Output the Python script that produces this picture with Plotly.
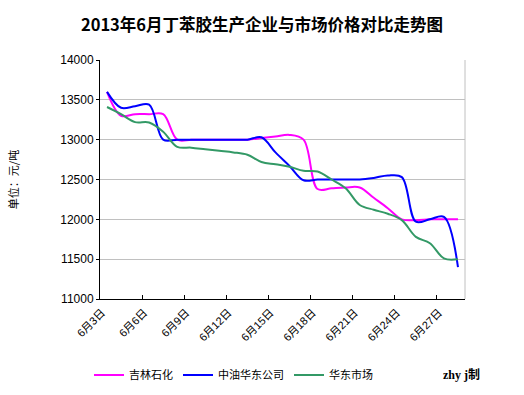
import plotly.graph_objects as go

dates = ["6月%d日" % d for d in range(3, 29)]
tick_labels = dates[::3]

jilin = [13600, 13300, 13320, 13320, 13320, 13000, 13000, 13000, 13000, 13000,
         13000, 13020, 13040, 13060, 13000, 12380, 12390, 12400, 12400, 12270,
         12140, 12000, 11990, 12000, 12000, 12000]
zhongyou = [13600, 13400, 13420, 13440, 13000, 13000, 13000, 13000, 13000, 13000,
            13000, 13030, 12840, 12670, 12490, 12500, 12500, 12500, 12500, 12520,
            12550, 12530, 11970, 12000, 12030, 11400]
huadong = [13410, 13320, 13220, 13215, 13100, 12910, 12900, 12880, 12860, 12840,
           12810, 12720, 12690, 12660, 12610, 12600, 12500, 12390, 12180, 12120,
           12070, 11990, 11780, 11700, 11510, 11500]

series = [("吉林石化", jilin, "#FF00FF"),
          ("中油华东公司", zhongyou, "#0000FF"),
          ("华东市场", huadong, "#339966")]

n = len(dates)
idx = list(range(n))                       # category positions
label_pos = idx[::3]
boundary_ticks = [i - 0.5 for i in range(3, n, 3)]

font_family = "Liberation Sans, Noto Sans CJK SC, sans-serif"

fig = go.Figure()
for name, vals, color in series:
    fig.add_trace(go.Scatter(x=idx, y=vals, name=name, mode="lines",
                             customdata=dates, hovertemplate="%{customdata}: %{y}",
                             line=dict(color=color, width=2, shape="spline")))

fig.update_layout(
    width=524, height=395,
    margin=dict(l=100, r=59, t=60, b=96),
    paper_bgcolor="white", plot_bgcolor="white",
    font=dict(family=font_family, size=11, color="black"),
    title=dict(text="<b>2013年6月丁苯胶生产企业与市场价格对比走势图</b>",
               x=0.5, xanchor="center", xref="container",
               y=1 - 25 / 395, yanchor="middle", yref="container",
               font=dict(size=16.5, family="Noto Sans CJK SC, serif")),
    showlegend=True,
    legend=dict(orientation="h", xref="container", x=89 / 524, xanchor="left",
                yref="container", y=1 - 375 / 395, yanchor="middle",
                font=dict(size=11), bgcolor="rgba(0,0,0,0)"),
    xaxis=dict(tickmode="array", tickvals=label_pos, ticktext=tick_labels,
               tickangle=-45, ticks="",
               ticklabelshift=-5, ticklabelstandoff=2, automargin=False,
               minor=dict(tickmode="array", tickvals=boundary_ticks,
                          ticks="inside", ticklen=4, tickcolor="black",
                          showgrid=False),
               showline=True, linecolor="black", linewidth=1,
               showgrid=False, zeroline=False,
               range=[-0.5, n - 0.5],
               tickfont=dict(size=11)),
    yaxis=dict(range=[11000, 14000], dtick=500, tickformat="d", showgrid=True,
               gridcolor="#C0C0C0", gridwidth=1, automargin=False,
               showline=True, linecolor="black", linewidth=1,
               ticks="outside", ticklen=3, tickcolor="black",
               zeroline=False, tickfont=dict(size=12),
               title=dict(text="单位：元/吨", standoff=39,
                          font=dict(size=11, family="Noto Sans CJK SC, serif"))),
)

fig.add_shape(type="line", xref="paper", yref="paper", x0=1, x1=1, y0=0, y1=1,
              line=dict(color="#C0C0C0", width=1))

fig.add_annotation(text="<b>zhy j制</b>", xref="paper", yref="paper",
                   x=(461 - 100) / 365, y=-0.318, xanchor="center",
                   yanchor="middle", showarrow=False,
                   font=dict(size=12, family="Liberation Serif, Noto Sans CJK SC, serif"))

fig.write_html("out.html", config={"displayModeBar": False},
               post_script="document.body.style.margin='0';document.body.style.overflow='hidden';")
